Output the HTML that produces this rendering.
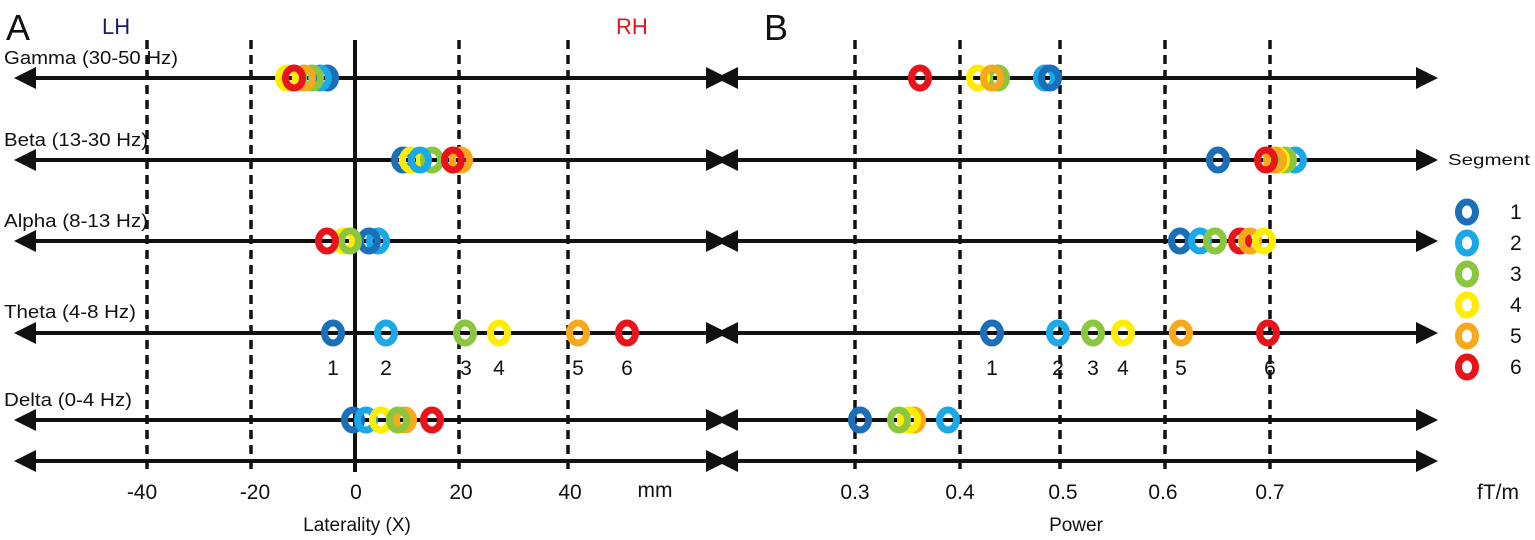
<!DOCTYPE html>
<html><head><style>html,body{margin:0;padding:0;background:#fff}svg{display:block}</style></head><body>
<svg width="1535" height="540" viewBox="0 0 1535 540" xmlns="http://www.w3.org/2000/svg" font-family="Liberation Sans, sans-serif">
<g stroke="#111" stroke-width="3.5" stroke-dasharray="9,6">
<line x1="147" y1="40" x2="147" y2="472"/><line x1="251" y1="40" x2="251" y2="472"/>
<line x1="459" y1="40" x2="459" y2="472"/><line x1="568" y1="40" x2="568" y2="472"/>
<line x1="855" y1="40" x2="855" y2="472"/><line x1="960" y1="40" x2="960" y2="472"/>
<line x1="1060" y1="40" x2="1060" y2="472"/><line x1="1165" y1="40" x2="1165" y2="472"/>
<line x1="1270" y1="40" x2="1270" y2="472"/>
</g>
<line x1="355" y1="40" x2="355" y2="472" stroke="#111" stroke-width="4"/>
<g stroke="#111" stroke-width="4">
<line x1="20" y1="78" x2="718" y2="78"/><line x1="730" y1="78" x2="1430" y2="78"/>
<line x1="20" y1="160" x2="718" y2="160"/><line x1="730" y1="160" x2="1430" y2="160"/>
<line x1="20" y1="241" x2="718" y2="241"/><line x1="730" y1="241" x2="1430" y2="241"/>
<line x1="20" y1="333" x2="718" y2="333"/><line x1="730" y1="333" x2="1430" y2="333"/>
<line x1="20" y1="420" x2="718" y2="420"/><line x1="730" y1="420" x2="1430" y2="420"/>
<line x1="20" y1="461" x2="718" y2="461"/><line x1="730" y1="461" x2="1430" y2="461"/>
</g>
<g fill="#111">
<polygon points="14,78 36,67 36,89"/><polygon points="728,78 706,67 706,89"/><polygon points="716,78 738,67 738,89"/><polygon points="1438,78 1416,67 1416,89"/>
<polygon points="14,160 36,149 36,171"/><polygon points="728,160 706,149 706,171"/><polygon points="716,160 738,149 738,171"/><polygon points="1438,160 1416,149 1416,171"/>
<polygon points="14,241 36,230 36,252"/><polygon points="728,241 706,230 706,252"/><polygon points="716,241 738,230 738,252"/><polygon points="1438,241 1416,230 1416,252"/>
<polygon points="14,333 36,322 36,344"/><polygon points="728,333 706,322 706,344"/><polygon points="716,333 738,322 738,344"/><polygon points="1438,333 1416,322 1416,344"/>
<polygon points="14,420 36,409 36,431"/><polygon points="728,420 706,409 706,431"/><polygon points="716,420 738,409 738,431"/><polygon points="1438,420 1416,409 1416,431"/>
<polygon points="14,461 36,450 36,472"/><polygon points="728,461 706,450 706,472"/><polygon points="716,461 738,450 738,472"/><polygon points="1438,461 1416,450 1416,472"/>
</g>
<g fill="none" stroke-width="7">
<ellipse cx="327" cy="78" rx="8.5" ry="10" stroke="#1a6fb8"/><ellipse cx="320" cy="78" rx="8.5" ry="10" stroke="#1aa8e8"/><ellipse cx="312" cy="78" rx="8.5" ry="10" stroke="#8cc63f"/><ellipse cx="304" cy="78" rx="8.5" ry="10" stroke="#f7a81b"/><ellipse cx="287" cy="78" rx="8.5" ry="10" stroke="#ffed00"/><ellipse cx="294" cy="78" rx="8.5" ry="10" stroke="#e8141c"/>
<ellipse cx="403" cy="160" rx="8.5" ry="10" stroke="#1a6fb8"/><ellipse cx="411" cy="160" rx="8.5" ry="10" stroke="#ffed00"/><ellipse cx="432" cy="160" rx="8.5" ry="10" stroke="#8cc63f"/><ellipse cx="420" cy="160" rx="8.5" ry="10" stroke="#1aa8e8"/><ellipse cx="461" cy="160" rx="8.5" ry="10" stroke="#f7a81b"/><ellipse cx="453" cy="160" rx="8.5" ry="10" stroke="#e8141c"/>
<ellipse cx="378" cy="241" rx="8.5" ry="10" stroke="#1aa8e8"/><ellipse cx="369" cy="241" rx="8.5" ry="10" stroke="#1a6fb8"/><ellipse cx="344" cy="241" rx="8.5" ry="10" stroke="#ffed00"/><ellipse cx="350" cy="241" rx="8.5" ry="10" stroke="#8cc63f"/><ellipse cx="327" cy="241" rx="8.5" ry="10" stroke="#e8141c"/>
<ellipse cx="333" cy="333" rx="8.5" ry="10" stroke="#1a6fb8"/><ellipse cx="386" cy="333" rx="8.5" ry="10" stroke="#1aa8e8"/><ellipse cx="465" cy="333" rx="8.5" ry="10" stroke="#8cc63f"/><ellipse cx="499" cy="333" rx="8.5" ry="10" stroke="#ffed00"/><ellipse cx="578" cy="333" rx="8.5" ry="10" stroke="#f7a81b"/><ellipse cx="627" cy="333" rx="8.5" ry="10" stroke="#e8141c"/>
<ellipse cx="353" cy="420" rx="8.5" ry="10" stroke="#1a6fb8"/><ellipse cx="366" cy="420" rx="8.5" ry="10" stroke="#1aa8e8"/><ellipse cx="381" cy="420" rx="8.5" ry="10" stroke="#ffed00"/><ellipse cx="405" cy="420" rx="8.5" ry="10" stroke="#f7a81b"/><ellipse cx="398" cy="420" rx="8.5" ry="10" stroke="#8cc63f"/><ellipse cx="432" cy="420" rx="8.5" ry="10" stroke="#e8141c"/>
<ellipse cx="920" cy="78" rx="8.5" ry="10" stroke="#e8141c"/><ellipse cx="998" cy="78" rx="8.5" ry="10" stroke="#8cc63f"/><ellipse cx="978" cy="78" rx="8.5" ry="10" stroke="#ffed00"/><ellipse cx="992" cy="78" rx="8.5" ry="10" stroke="#f7a81b"/><ellipse cx="1045" cy="78" rx="8.5" ry="10" stroke="#1aa8e8"/><ellipse cx="1050" cy="78" rx="8.5" ry="10" stroke="#1a6fb8"/>
<ellipse cx="1218" cy="160" rx="8.5" ry="10" stroke="#1a6fb8"/><ellipse cx="1295" cy="160" rx="8.5" ry="10" stroke="#1aa8e8"/><ellipse cx="1285" cy="160" rx="8.5" ry="10" stroke="#8cc63f"/><ellipse cx="1278" cy="160" rx="8.5" ry="10" stroke="#ffed00"/><ellipse cx="1275" cy="160" rx="8.5" ry="10" stroke="#f7a81b"/><ellipse cx="1266" cy="160" rx="8.5" ry="10" stroke="#e8141c"/>
<ellipse cx="1180" cy="241" rx="8.5" ry="10" stroke="#1a6fb8"/><ellipse cx="1200" cy="241" rx="8.5" ry="10" stroke="#1aa8e8"/><ellipse cx="1215" cy="241" rx="8.5" ry="10" stroke="#8cc63f"/><ellipse cx="1240" cy="241" rx="8.5" ry="10" stroke="#e8141c"/><ellipse cx="1250" cy="241" rx="8.5" ry="10" stroke="#f7a81b"/><ellipse cx="1264" cy="241" rx="8.5" ry="10" stroke="#ffed00"/>
<ellipse cx="992" cy="333" rx="8.5" ry="10" stroke="#1a6fb8"/><ellipse cx="1058" cy="333" rx="8.5" ry="10" stroke="#1aa8e8"/><ellipse cx="1093" cy="333" rx="8.5" ry="10" stroke="#8cc63f"/><ellipse cx="1123" cy="333" rx="8.5" ry="10" stroke="#ffed00"/><ellipse cx="1181" cy="333" rx="8.5" ry="10" stroke="#f7a81b"/><ellipse cx="1268" cy="333" rx="8.5" ry="10" stroke="#e8141c"/>
<ellipse cx="948" cy="420" rx="8.5" ry="10" stroke="#1aa8e8"/><ellipse cx="860" cy="420" rx="8.5" ry="10" stroke="#1a6fb8"/><ellipse cx="914" cy="420" rx="8.5" ry="10" stroke="#f7a81b"/><ellipse cx="909" cy="420" rx="8.5" ry="10" stroke="#ffed00"/><ellipse cx="899" cy="420" rx="8.5" ry="10" stroke="#8cc63f"/>
<ellipse cx="1467" cy="212" rx="8.5" ry="10" stroke="#1a6fb8"/><ellipse cx="1467" cy="243" rx="8.5" ry="10" stroke="#1aa8e8"/><ellipse cx="1467" cy="274" rx="8.5" ry="10" stroke="#8cc63f"/><ellipse cx="1467" cy="305" rx="8.5" ry="10" stroke="#ffed00"/><ellipse cx="1467" cy="336" rx="8.5" ry="10" stroke="#f7a81b"/><ellipse cx="1467" cy="367" rx="8.5" ry="10" stroke="#e8141c"/>
</g>
<g fill="#111">
<text x="6" y="40" font-size="36">A</text>
<text x="764" y="40" font-size="36">B</text>
<text x="102" y="34" font-size="22" fill="#1c1c6e">LH</text>
<text x="616" y="34" font-size="22" fill="#e8141c">RH</text>
<g font-size="18">
<text x="4" y="64" textLength="174" lengthAdjust="spacingAndGlyphs">Gamma (30-50 Hz)</text>
<text x="4" y="146" textLength="144" lengthAdjust="spacingAndGlyphs">Beta (13-30 Hz)</text>
<text x="4" y="227" textLength="144" lengthAdjust="spacingAndGlyphs">Alpha (8-13 Hz)</text>
<text x="4" y="318" textLength="132" lengthAdjust="spacingAndGlyphs">Theta (4-8 Hz)</text>
<text x="4" y="406" textLength="128" lengthAdjust="spacingAndGlyphs">Delta (0-4 Hz)</text>
</g>
<g font-size="21" text-anchor="middle">
<text x="333" y="375">1</text><text x="386" y="375">2</text><text x="466" y="375">3</text><text x="499" y="375">4</text><text x="578" y="375">5</text><text x="627" y="375">6</text>
<text x="992" y="375">1</text><text x="1058" y="375">2</text><text x="1093" y="375">3</text><text x="1123" y="375">4</text><text x="1181" y="375">5</text><text x="1270" y="375">6</text>
<text x="142" y="499">-40</text><text x="255" y="499">-20</text><text x="356" y="499">0</text><text x="461" y="499">20</text><text x="570" y="499">40</text><text x="655" y="497">mm</text>
<text x="855" y="499">0.3</text><text x="960" y="499">0.4</text><text x="1063" y="499">0.5</text><text x="1163" y="499">0.6</text><text x="1270" y="499">0.7</text><text x="1498" y="499">fT/m</text>
</g>
<g font-size="19" text-anchor="middle">
<text x="357" y="531">Laterality (X)</text>
<text x="1076" y="531">Power</text>
</g>
<text x="1448" y="165" font-size="16" textLength="82" lengthAdjust="spacingAndGlyphs">Segment</text>
<g font-size="21">
<text x="1510" y="219">1</text><text x="1510" y="250">2</text><text x="1510" y="281">3</text><text x="1510" y="312">4</text><text x="1510" y="343">5</text><text x="1510" y="374">6</text>
</g>
</g>
</svg>
</body></html>
